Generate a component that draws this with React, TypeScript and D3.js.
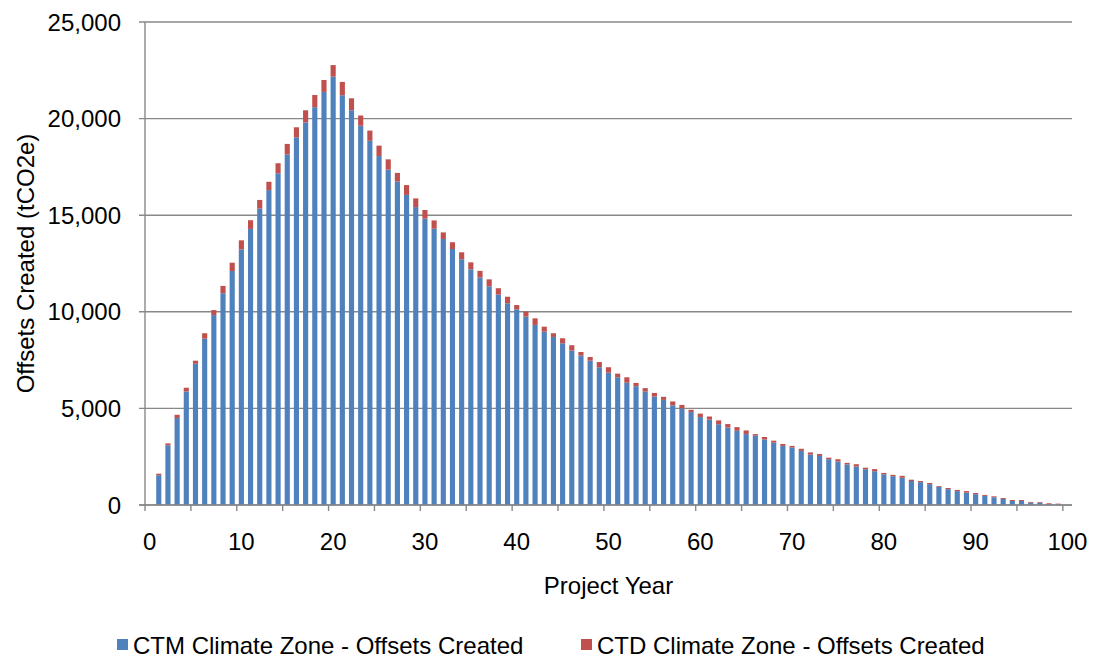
import React, { useEffect, useRef } from 'react';
import * as d3 from 'd3';

// categories on the x axis (project year 0..100)
const projectYears = d3.range(0, 101);

// CTM climate zone, offsets created per year (tCO2e), year 0..100
const ctmOffsets = [
  0, 1540, 3090, 4500, 5880, 7310, 8610, 9830, 10960, 12110, 13230,
  14290, 15340, 16300, 17170, 18150, 19030, 19800, 20590, 21380, 22170,
  21210, 20430, 19630, 18850, 18060, 17360, 16740, 16050, 15420, 14820,
  14300, 13770, 13250, 12720, 12200, 11770, 11320, 10890, 10440, 10130,
  9750, 9320, 8970, 8700, 8370, 7990, 7730, 7470, 7130, 6850,
  6610, 6330, 6150, 5870, 5610, 5440, 5160, 5000, 4810, 4550,
  4420, 4180, 4010, 3840, 3670, 3590, 3390, 3230, 3060, 2980,
  2800, 2610, 2540, 2370, 2250, 2100, 1990, 1850, 1750, 1590,
  1490, 1410, 1240, 1180, 1080, 940, 820, 720, 640, 560,
  470, 400, 310, 210, 210, 120, 105, 50, 40, 0,
];

// CTD climate zone, offsets created per year (tCO2e), year 0..100
const ctdOffsets = [
  0, 80, 100, 170, 190, 160, 280, 260, 380, 430, 470,
  450, 450, 430, 520, 540, 520, 630, 630, 620, 600,
  690, 620, 530, 530, 540, 530, 450, 510, 450, 450,
  430, 340, 350, 360, 360, 350, 360, 330, 340, 220,
  260, 340, 260, 190, 260, 280, 190, 190, 270, 280,
  190, 280, 170, 180, 190, 160, 200, 180, 120, 180,
  160, 200, 180, 190, 190, 80, 130, 100, 100, 80,
  110, 110, 100, 80, 120, 80, 120, 80, 110, 70,
  70, 100, 70, 60, 60, 40, 60, 60, 80, 60,
  50, 50, 50, 50, 50, 40, 40, 40, 30, 0,
];

const yTicks = [0, 5000, 10000, 15000, 20000, 25000];
const xLabelYears = [0, 10, 20, 30, 40, 50, 60, 70, 80, 90, 100];
const xTickBoundaries = [0, 5, 10, 15, 20, 25, 30, 35, 40, 45, 50, 55, 60, 65, 70, 75, 80, 85, 90, 95, 100];

const seriesKeys = ['ctm', 'ctd'];
const seriesNames = ['CTM Climate Zone - Offsets Created', 'CTD Climate Zone - Offsets Created'];
const seriesColors = ['#4F81BD', '#C0504D'];

const W = 1095;
const H = 659;
const margin = { top: 22, right: 23, bottom: 154, left: 145 };
const FONT = "'Liberation Sans', Arial, sans-serif";
const FS = 24;
const GRID = '#888888';

const App = () => {
  const svgRef = useRef<SVGSVGElement | null>(null);

  useEffect(() => {
    if (!svgRef.current) return;
    const svg = d3.select(svgRef.current);
    svg.selectAll('*').remove();

    const innerW = W - margin.left - margin.right;
    const innerH = H - margin.top - margin.bottom;

    const rows = projectYears.map((yr, i) => ({ year: yr, ctm: ctmOffsets[i], ctd: ctdOffsets[i] }));
    const stacked = d3.stack<any>().keys(seriesKeys)(rows);

    const x = d3
      .scaleBand<number>()
      .domain(projectYears)
      .range([0, innerW])
      .paddingInner(0.44)
      .paddingOuter(0.22);
    const step = x.step();
    const x0 = x(0)! - x.paddingOuter() * step;
    const boundary = (k: number) => x0 + k * step;

    const y = d3.scaleLinear().domain([0, 25000]).range([innerH, 0]);

    const chart = svg.append('g').attr('transform', `translate(${margin.left},${margin.top})`);

    // gridlines + y ticks
    chart
      .selectAll('line.grid')
      .data(yTicks)
      .enter()
      .append('line')
      .attr('class', 'grid')
      .attr('x1', -6)
      .attr('x2', innerW)
      .attr('y1', (d) => y(d))
      .attr('y2', (d) => y(d))
      .attr('stroke', GRID)
      .attr('stroke-width', 1.4);

    chart
      .selectAll('text.ylab')
      .data(yTicks)
      .enter()
      .append('text')
      .attr('class', 'ylab')
      .attr('x', -24)
      .attr('y', (d) => y(d))
      .attr('dy', '0.36em')
      .attr('text-anchor', 'end')
      .attr('font-family', FONT)
      .attr('font-size', FS)
      .attr('fill', '#000')
      .text((d) => d3.format(',')(d));

    // bars
    stacked.forEach((layer, si) => {
      chart
        .append('g')
        .selectAll('rect')
        .data(layer)
        .enter()
        .append('rect')
        .attr('x', (d: any) => x(d.data.year)!)
        .attr('width', x.bandwidth())
        .attr('y', (d: any) => y(d[1]))
        .attr('height', (d: any) => Math.max(0, y(d[0]) - y(d[1])))
        .attr('fill', seriesColors[si]);
    });

    // axes lines
    chart
      .append('line')
      .attr('x1', 0)
      .attr('x2', 0)
      .attr('y1', 0)
      .attr('y2', innerH)
      .attr('stroke', GRID)
      .attr('stroke-width', 1.4);
    chart
      .append('line')
      .attr('x1', -6)
      .attr('x2', innerW)
      .attr('y1', innerH)
      .attr('y2', innerH)
      .attr('stroke', GRID)
      .attr('stroke-width', 1.4);

    chart
      .selectAll('line.xtick')
      .data(xTickBoundaries)
      .enter()
      .append('line')
      .attr('class', 'xtick')
      .attr('x1', (d) => boundary(d))
      .attr('x2', (d) => boundary(d))
      .attr('y1', innerH)
      .attr('y2', innerH + 6)
      .attr('stroke', GRID)
      .attr('stroke-width', 1.4);

    chart
      .selectAll('text.xlab')
      .data(xLabelYears)
      .enter()
      .append('text')
      .attr('class', 'xlab')
      .attr('x', (d) => x(d)! + x.bandwidth() / 2)
      .attr('y', innerH + 45)
      .attr('text-anchor', 'middle')
      .attr('font-family', FONT)
      .attr('font-size', FS)
      .attr('fill', '#000')
      .text((d) => d);

    // axis titles
    chart
      .append('text')
      .attr('x', innerW / 2)
      .attr('y', innerH + 89)
      .attr('text-anchor', 'middle')
      .attr('font-family', FONT)
      .attr('font-size', FS)
      .text('Project Year');

    svg
      .append('text')
      .attr('transform', `translate(34,${margin.top + innerH / 2}) rotate(-90)`)
      .attr('text-anchor', 'middle')
      .attr('font-family', FONT)
      .attr('font-size', FS)
      .text('Offsets Created (tCO2e)');

    // legend
    const legendX = [117, 581];
    const legend = svg
      .selectAll('g.legend')
      .data(seriesNames)
      .enter()
      .append('g')
      .attr('class', 'legend')
      .attr('transform', (_, i) => `translate(${legendX[i]},645)`);
    legend
      .append('rect')
      .attr('x', 0)
      .attr('y', -6)
      .attr('width', 11)
      .attr('height', 11)
      .attr('fill', (_, i) => seriesColors[i]);
    legend
      .append('text')
      .attr('x', 16)
      .attr('y', 0)
      .attr('dy', '0.36em')
      .attr('font-family', FONT)
      .attr('font-size', FS)
      .text((d) => d);
  }, []);

  return (
    <svg
      ref={svgRef}
      width={W}
      height={H}
      style={{ position: 'absolute', left: 0, top: 0, background: '#fff' }}
    />
  );
};

export default App;
